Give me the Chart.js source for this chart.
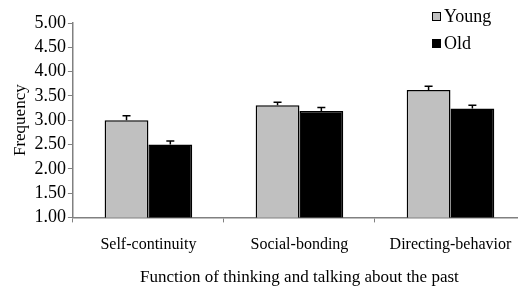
<!DOCTYPE html>
<html>
<head>
<meta charset="utf-8">
<script src="https://cdn.jsdelivr.net/npm/chart.js@4/dist/chart.umd.min.js"></script>
<style>
    html, body { margin: 0; padding: 0; background: #fff; overflow: hidden; }
    #wrap { width: 530px; height: 288px; position: relative; }
</style>
</head>
<body>
<div id="wrap"><canvas id="chart"></canvas></div>
<script>
const categories = ['Self-continuity', 'Social-bonding', 'Directing-behavior'];
const youngValues = [3.00, 3.31, 3.62];
const oldValues = [2.50, 3.19, 3.24];
// верхние концы планок погрешностей
const youngErrTop = [3.09, 3.37, 3.70];
const oldErrTop = [2.57, 3.26, 3.31];
const yTicks = [1, 1.5, 2, 2.5, 3, 3.5, 4, 4.5, 5];

const serif = '"Liberation Serif", "Times New Roman", serif';

// Планки погрешностей (только вверх, с засечкой)
const errorBars = {
    id: 'errorBars',
    afterDatasetsDraw(chart) {
        const ctx = chart.ctx;
        const yScale = chart.scales.y;
        chart.data.datasets.forEach((ds, di) => {
            const meta = chart.getDatasetMeta(di);
            meta.data.forEach((bar, i) => {
                const top = yScale.getPixelForValue(ds.errTop[i]);
                ctx.save();
                ctx.strokeStyle = '#000';
                ctx.lineWidth = 1.5;
                ctx.beginPath();
                ctx.moveTo(bar.x, bar.y);
                ctx.lineTo(bar.x, top);
                ctx.moveTo(bar.x - 4, top);
                ctx.lineTo(bar.x + 4, top);
                ctx.stroke();
                ctx.restore();
            });
        });
    }
};

// Легенда в правом верхнем углу, столбиком
const cornerLegend = {
    id: 'cornerLegend',
    afterDraw(chart) {
        const ctx = chart.ctx;
        const left = chart.chartArea.right - 94;
        let y = 12;
        chart.data.datasets.forEach(ds => {
            ctx.save();
            ctx.fillStyle = ds.backgroundColor;
            ctx.fillRect(left, y, 9, 9);
            ctx.strokeStyle = '#000';
            ctx.lineWidth = 1;
            ctx.strokeRect(left + 0.5, y + 0.5, 8, 8);
            ctx.fillStyle = '#000';
            ctx.font = '18px ' + serif;
            ctx.textBaseline = 'middle';
            ctx.fillText(ds.label, left + 12, y + 5);
            ctx.restore();
            y += 27;
        });
    }
};

new Chart(document.getElementById('chart'), {
    type: 'bar',
    data: {
        labels: categories,
        datasets: [
            {
                label: 'Young',
                data: youngValues,
                errTop: youngErrTop,
                backgroundColor: '#c0c0c0',
                borderColor: '#000',
                borderWidth: 1.5
            },
            {
                label: 'Old',
                data: oldValues,
                errTop: oldErrTop,
                backgroundColor: '#000',
                borderColor: '#000',
                borderWidth: 1.5
            }
        ]
    },
    options: {
        responsive: true,
        maintainAspectRatio: false,
        animation: false,
        layout: { padding: { top: 23, right: 4, left: 10, bottom: 0 } },
        datasets: {
            bar: { categoryPercentage: 0.58, barPercentage: 1.0 }
        },
        plugins: {
            legend: { display: false },
            tooltip: { enabled: false }
        },
        scales: {
            x: {
                grid: { drawOnChartArea: false, drawTicks: true, tickLength: 5, color: '#808080', offset: true },
                border: { display: true, color: '#808080', width: 1.5 },
                ticks: { color: '#000', font: { family: serif, size: 16 }, padding: 13, maxRotation: 0 },
                title: {
                    display: true,
                    text: 'Function of thinking and talking about the past',
                    color: '#000',
                    font: { family: serif, size: 17 },
                    padding: { top: 0, bottom: 0 }
                }
            },
            y: {
                min: 1,
                max: 5,
                afterBuildTicks(axis) {
                    axis.ticks = yTicks.map(v => ({ value: v }));
                },
                grid: { drawOnChartArea: false, drawTicks: true, tickLength: 5, color: '#808080' },
                border: { display: true, color: '#808080', width: 1.5 },
                ticks: {
                    color: '#000',
                    font: { family: serif, size: 18 },
                    padding: 2,
                    autoSkip: false,
                    callback: v => Number(v).toFixed(2)
                },
                title: {
                    display: true,
                    text: 'Frequency',
                    color: '#000',
                    font: { family: serif, size: 17 },
                    padding: { top: 0, bottom: 2 }
                }
            }
        }
    },
    plugins: [errorBars, cornerLegend]
});
</script>
</body>
</html>
